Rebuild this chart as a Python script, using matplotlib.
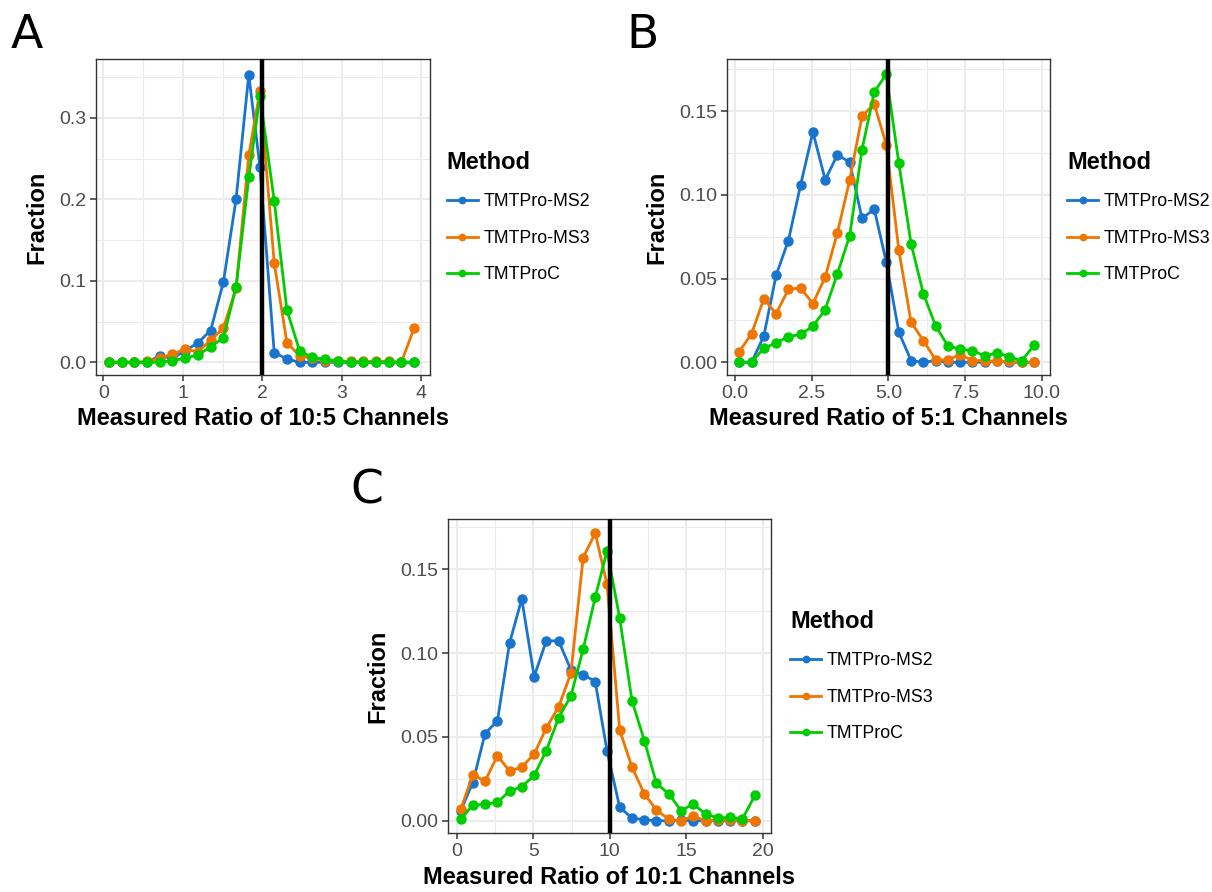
"""
Measured reporter-ion ratio distributions for three TMTPro acquisition methods.
Panels: 10:5, 5:1 and 10:1 channel ratios, with the expected ratio marked.
"""
import matplotlib
matplotlib.use('Agg')
import matplotlib.pyplot as plt
from matplotlib.ticker import MultipleLocator

plt.rcParams.update({
    'font.family': ['Liberation Sans', 'DejaVu Sans'],
    'figure.dpi': 100,
})

METHODS = ['TMTPro-MS2', 'TMTPro-MS3', 'TMTProC']
COLORS = {'TMTPro-MS2': '#1874CD', 'TMTPro-MS3': '#EE7600', 'TMTProC': '#00CD00'}

# --- 10:5 channels (expected ratio 2) ---
ratio_a = [0.07, 0.23, 0.39, 0.55, 0.71, 0.87, 1.03, 1.19, 1.35, 1.51, 1.67, 1.83, 1.97,
           2.15, 2.31, 2.47, 2.63, 2.79, 2.95, 3.11, 3.27, 3.43, 3.59, 3.75, 3.91]
ms2_a = [0.0, 0.0, 0.0, 0.0, 0.008, 0.005, 0.014, 0.024, 0.039, 0.098, 0.200, 0.353, 0.240,
         0.012, 0.004, 0.0, 0.0, 0.0, 0.0, 0.0, 0.0, 0.0, 0.0, 0.0, 0.0]
ms3_a = [0.0, 0.0, 0.0, 0.001, 0.005, 0.010, 0.016, 0.013, 0.027, 0.042, 0.091, 0.254, 0.333,
         0.122, 0.024, 0.008, 0.005, 0.002, 0.001, 0.001, 0.001, 0.001, 0.001, 0.0, 0.042]
proc_a = [0.0, 0.0, 0.0, 0.0, 0.0, 0.002, 0.005, 0.009, 0.019, 0.030, 0.092, 0.227, 0.327,
          0.198, 0.064, 0.014, 0.006, 0.004, 0.001, 0.0, 0.0, 0.0, 0.0, 0.0, 0.0]

# --- 5:1 channels (expected ratio 5) ---
ratio_b = [0.14, 0.54, 0.94, 1.34, 1.74, 2.14, 2.54, 2.94, 3.34, 3.74, 4.14, 4.54, 4.93,
           5.34, 5.74, 6.14, 6.54, 6.94, 7.34, 7.74, 8.14, 8.54, 8.94, 9.34, 9.76]
ms2_b = [0.0, 0.0, 0.0157, 0.052, 0.0727, 0.106, 0.1376, 0.109, 0.124, 0.1195, 0.086, 0.0914,
         0.060, 0.018, 0.001, 0.0, 0.001, 0.0, 0.0, 0.0, 0.0, 0.001, 0.0, 0.0, 0.0]
ms3_b = [0.0064, 0.017, 0.038, 0.029, 0.0436, 0.0444, 0.035, 0.051, 0.0775, 0.109, 0.147,
         0.1544, 0.130, 0.067, 0.024, 0.013, 0.0014, 0.0014, 0.0046, 0.001, 0.001, 0.0005,
         0.0005, 0.0, 0.0]
proc_b = [0.0, 0.0, 0.0084, 0.0116, 0.0153, 0.0167, 0.0215, 0.0315, 0.053, 0.0757, 0.127,
          0.1616, 0.172, 0.119, 0.0707, 0.041, 0.0217, 0.0098, 0.0078, 0.007, 0.0038, 0.0056,
          0.0034, 0.0008, 0.0104]

# --- 10:1 channels (expected ratio 10) ---
ratio_c = [0.26, 1.05, 1.85, 2.66, 3.45, 4.25, 5.06, 5.85, 6.66, 7.46, 8.26, 9.05, 9.82,
           10.65, 11.45, 12.26, 13.05, 13.86, 14.66, 15.46, 16.26, 17.06, 17.86, 18.66, 19.5]
ms2_c = [0.006, 0.0227, 0.052, 0.0597, 0.106, 0.1323, 0.086, 0.1073, 0.1073, 0.090, 0.0872,
         0.083, 0.0416, 0.008, 0.0016, 0.0006, 0.0, 0.0, 0.0004, 0.0, 0.0, 0.0, 0.0, 0.0, 0.0]
ms3_c = [0.0068, 0.0273, 0.0237, 0.0388, 0.0296, 0.032, 0.0398, 0.0553, 0.068, 0.088, 0.157,
         0.1715, 0.141, 0.054, 0.032, 0.016, 0.0064, 0.0008, 0.0, 0.0028, 0.0, 0.0005, 0.0005,
         0.0, 0.0]
proc_c = [0.0008, 0.0094, 0.0098, 0.011, 0.0177, 0.0203, 0.027, 0.0418, 0.0615, 0.0744,
          0.1023, 0.1333, 0.161, 0.1208, 0.0716, 0.0478, 0.0223, 0.016, 0.006, 0.010, 0.004,
          0.0016, 0.002, 0.001, 0.0153]

GRID = '#EBEBEB'
INK = '#333333'


def style_axes(ax, xmajor, ymajor, fmt_y, fmt_x):
    ax.set_facecolor('white')
    ax.xaxis.set_major_locator(MultipleLocator(xmajor))
    ax.xaxis.set_minor_locator(MultipleLocator(xmajor / 2))
    ax.yaxis.set_major_locator(MultipleLocator(ymajor))
    ax.yaxis.set_minor_locator(MultipleLocator(ymajor / 2))
    ax.xaxis.set_major_formatter(fmt_x)
    ax.yaxis.set_major_formatter(fmt_y)
    ax.grid(which='major', color=GRID, lw=1.5, zorder=0)
    ax.grid(which='minor', color=GRID, lw=0.8, zorder=0)
    ax.set_axisbelow(True)
    for sp in ax.spines.values():
        sp.set_color(INK)
        sp.set_linewidth(1.0)
    ax.tick_params(which='major', length=4, width=1.1, color=INK, labelcolor='#4D4D4D',
                   labelsize=14, pad=3)
    ax.tick_params(which='minor', length=0)


def draw_panel(ax, x, series, expected, xlim, ylim, xlabel, letter, xmajor, ymajor,
               fmt_y, fmt_x, legend_x):
    for name, y in zip(METHODS, series):
        ax.plot(x, y, '-o', color=COLORS[name], lw=2.0, ms=6.5, label=name, zorder=3)
    ax.axvline(expected, color='black', lw=3.2, zorder=4)
    ax.set_xlim(*xlim)
    ax.set_ylim(*ylim)
    style_axes(ax, xmajor, ymajor, fmt_y, fmt_x)
    ax.set_xlabel(xlabel, fontsize=17, fontweight='bold', labelpad=4)
    ax.set_ylabel('Fraction', fontsize=17, fontweight='bold', labelpad=8)
    leg = ax.legend(loc='center left', bbox_to_anchor=(legend_x, 0.5), frameon=False,
                    title='Method', fontsize=12.8, handlelength=1.75, handletextpad=0.3,
                    labelspacing=1.1, borderpad=0, borderaxespad=0, markerscale=0.7)
    leg.get_title().set_fontsize(17)
    leg.get_title().set_fontweight('bold')
    leg._legend_box.align = 'left'
    ax.figure.text(letter[0], letter[1], letter[2], fontsize=34, family='DejaVu Sans',
                   va='top', ha='left')


fig = plt.figure(figsize=(12.12, 8.92))

ax_a = fig.add_axes([0.0792, 0.5796, 0.2756, 0.3539])
ax_b = fig.add_axes([0.6001, 0.5796, 0.2663, 0.3539])
ax_c = fig.add_axes([0.3694, 0.0658, 0.2668, 0.3524])

draw_panel(ax_a, ratio_a, [ms2_a, ms3_a, proc_a], 2, (-0.092, 4.11), (-0.0156, 0.3718),
           'Measured Ratio of 10:5 Channels', (0.009, 0.985, 'A'), 1, 0.1,
           lambda v, p: f'{v:.1f}', lambda v, p: f'{v:.0f}', 1.05)
draw_panel(ax_b, ratio_b, [ms2_b, ms3_b, proc_b], 5, (-0.25, 10.27), (-0.0076, 0.181),
           'Measured Ratio of 5:1 Channels', (0.517, 0.985, 'B'), 2.5, 0.05,
           lambda v, p: f'{v:.2f}', lambda v, p: f'{v:.1f}', 1.053)
draw_panel(ax_c, ratio_c, [ms2_c, ms3_c, proc_c], 10, (-0.59, 20.54), (-0.0075, 0.18),
           'Measured Ratio of 10:1 Channels', (0.289, 0.475, 'C'), 5, 0.05,
           lambda v, p: f'{v:.2f}', lambda v, p: f'{v:.0f}', 1.059)

fig.savefig('out.png', dpi=100)
